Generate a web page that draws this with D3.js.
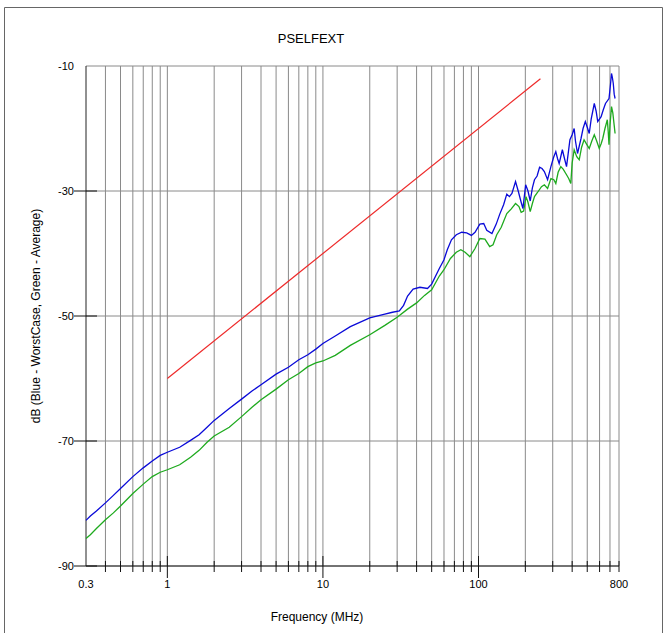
<!DOCTYPE html>
<html><head><meta charset="utf-8">
<script src="https://cdn.jsdelivr.net/npm/d3@7"></script>
<style>body{margin:0;background:#fff}svg{display:block}text{font-family:"Liberation Sans",Arial,sans-serif;fill:#000}</style>
</head><body>
<script>
const title = "PSELFEXT";
const xLabel = "Frequency (MHz)";
const yLabel = "dB (Blue - WorstCase, Green - Average)";
const xTickLabels = [0.3, 1, 10, 100, 800];
const yTicks = [-10, -30, -50, -70, -90];
const gridFreqs = [0.4,0.5,0.6,0.7,0.8,0.9,1,2,3,4,5,6,7,8,9,10,20,30,40,50,60,70,80,90,100,200,300,400,500,600,700,800];
const majorFreqs = [1, 10, 100];

const redFreq = [1, 250];
const redDb = [-60, -12.04];

const blueFreq = [0.3,0.32,0.35,0.4,0.45,0.5,0.6,0.7,0.8,0.9,1.0,1.2,1.41,1.6,1.8,2.0,2.5,3.0,3.5,4.0,5.0,6.0,7.0,8.0,9.0,10,12,15,20,25,28,31,33,35,38,42,47,50,56,60,63,67,72,78,84,90,95,102,108,113,122,130,137,145,152,158,164,173,180,188,193,201,208,215,222,229,238,247,256,265,278,292,304,314,322,330,346,357,368,387,400,412,420,433,456,470,486,500,515,530,555,570,584,614,634,655,690,705,716,725,735,745,755];
const blueDb = [-82.7,-82.0,-81.2,-79.9,-78.7,-77.6,-75.7,-74.3,-73.2,-72.3,-71.8,-71.0,-69.9,-69.0,-67.8,-66.7,-64.8,-63.3,-62.0,-61.0,-59.3,-58.2,-57.0,-56.2,-55.3,-54.4,-53.2,-51.7,-50.3,-49.7,-49.4,-49.2,-48.3,-46.8,-45.7,-45.4,-45.6,-44.9,-42.4,-41.0,-39.4,-37.8,-37.0,-36.6,-36.7,-37.1,-36.6,-35.3,-35.2,-36.3,-36.8,-35.3,-33.7,-32.2,-30.5,-30.9,-30.4,-28.5,-30.0,-31.8,-32.8,-29.0,-30.0,-31.6,-29.5,-28.2,-27.6,-26.2,-26.4,-26.9,-28.2,-26.1,-24.6,-23.7,-24.8,-25.6,-23.4,-24.8,-26.1,-21.8,-21.0,-20.0,-22.0,-24.0,-21.6,-20.0,-18.9,-19.8,-20.8,-18.5,-16.0,-17.2,-18.9,-18.1,-17.0,-16.0,-15.2,-13.0,-11.2,-11.8,-12.8,-14.5,-15.2];

const greenFreq = [0.3,0.32,0.35,0.4,0.45,0.5,0.6,0.7,0.8,0.9,1.0,1.2,1.41,1.6,1.8,2.0,2.5,3.0,3.5,4.0,5.0,6.0,7.0,8.0,9.0,10,12,15,20,25,30,35,40,45,50,56,60,66,72,77,82,88,95,102,110,118,124,131,140,152,162,173,182,188,195,202,208,215,222,229,240,254,265,278,292,305,314,325,338,350,368,380,392,400,412,428,444,460,477,495,515,535,555,575,597,615,629,650,673,682,690,700,716,730,745,755];
const greenDb = [-85.6,-85.0,-84.0,-82.6,-81.5,-80.4,-78.4,-76.9,-75.7,-75.0,-74.6,-73.8,-72.6,-71.5,-70.2,-69.2,-67.8,-66.1,-64.6,-63.4,-61.7,-60.2,-59.2,-58.1,-57.5,-57.2,-56.3,-54.7,-53.0,-51.5,-50.2,-48.9,-47.9,-46.7,-45.8,-43.6,-42.6,-40.8,-39.8,-39.4,-39.8,-40.5,-39.2,-37.6,-37.7,-38.9,-38.6,-37.0,-35.8,-33.6,-32.9,-32.0,-32.5,-33.4,-33.2,-30.9,-31.8,-33.3,-32.0,-30.9,-30.2,-29.3,-29.0,-29.6,-28.0,-28.2,-28.8,-27.0,-26.1,-26.5,-27.4,-28.0,-28.8,-25.5,-23.4,-24.5,-25.0,-23.0,-21.8,-22.5,-23.2,-22.0,-21.0,-22.0,-23.2,-22.4,-21.6,-20.0,-18.6,-20.5,-22.6,-19.5,-16.5,-17.5,-19.5,-20.8];

const W = 666, H = 633;
const svg = d3.select("body").append("svg").attr("width", W).attr("height", H);

// outer frame
svg.append("path").attr("d", "M4.5,640 V7.5 H662.5 V640").attr("fill", "none").attr("stroke", "#666").attr("stroke-width", 1);

const x = d3.scaleLog().domain([0.3, 800]).range([86, 619]);
const y = d3.scaleLinear().domain([-90, -10]).range([566, 66]);

// vertical grid
svg.append("g").selectAll("line").data(gridFreqs).join("line")
  .attr("x1", d => x(d)).attr("x2", d => x(d)).attr("y1", y(-10)).attr("y2", y(-90))
  .attr("stroke", "#8a8a8a").attr("stroke-width", 1);
// horizontal grid
svg.append("g").selectAll("line").data(yTicks).join("line")
  .attr("x1", x(0.3)).attr("x2", x(800)).attr("y1", d => y(d)).attr("y2", d => y(d))
  .attr("stroke", "#8a8a8a").attr("stroke-width", 1);

// left axis & bottom axis
svg.append("line").attr("x1", x(0.3)).attr("x2", x(0.3)).attr("y1", y(-10)).attr("y2", y(-90)).attr("stroke", "#222");
svg.append("line").attr("x1", x(0.3)).attr("x2", x(800)).attr("y1", y(-90)).attr("y2", y(-90)).attr("stroke", "#222");

// y ticks
svg.append("g").selectAll("line").data(yTicks.filter(d => d !== -10)).join("line")
  .attr("x1", x(0.3) - 12).attr("x2", x(0.3) + 11).attr("y1", d => y(d)).attr("y2", d => y(d))
  .attr("stroke", "#111").attr("stroke-width", 1);
svg.append("g").selectAll("text").data(yTicks).join("text")
  .attr("x", 74).attr("y", d => y(d) + 4).attr("text-anchor", "end").attr("font-size", 11).text(d => d);

// x ticks
svg.append("g").selectAll("line").data(gridFreqs).join("line")
  .attr("x1", d => x(d)).attr("x2", d => x(d))
  .attr("y1", d => majorFreqs.includes(d) ? y(-90) - 10 : y(-90) - 5)
  .attr("y2", d => majorFreqs.includes(d) ? y(-90) + 12 : y(-90) + 6)
  .attr("stroke", "#111");
svg.append("g").selectAll("text").data(xTickLabels).join("text")
  .attr("x", d => x(d)).attr("y", 588).attr("text-anchor", "middle").attr("font-size", 11).text(d => d);

// lines
const line = d3.line().x(d => x(d[0])).y(d => y(d[1]));
const mk = (fs, vs) => fs.map((f, i) => [f, vs[i]]);
svg.append("path").datum(mk(redFreq, redDb)).attr("d", line).attr("fill", "none").attr("stroke", "#ee2a2a").attr("stroke-width", 1.2);
svg.append("path").datum(mk(greenFreq, greenDb)).attr("d", line).attr("fill", "none").attr("stroke", "#1eaa1e").attr("stroke-width", 1.3);
svg.append("path").datum(mk(blueFreq, blueDb)).attr("d", line).attr("fill", "none").attr("stroke", "#0a0ad8").attr("stroke-width", 1.3);

// titles
svg.append("text").attr("x", 311).attr("y", 43).attr("text-anchor", "middle").attr("font-size", 13).text(title);
svg.append("text").attr("x", 317).attr("y", 621).attr("text-anchor", "middle").attr("font-size", 12).text(xLabel);
svg.append("text").attr("transform", "translate(40,316) rotate(-90)").attr("text-anchor", "middle").attr("font-size", 12).text(yLabel);
</script>
</body></html>
